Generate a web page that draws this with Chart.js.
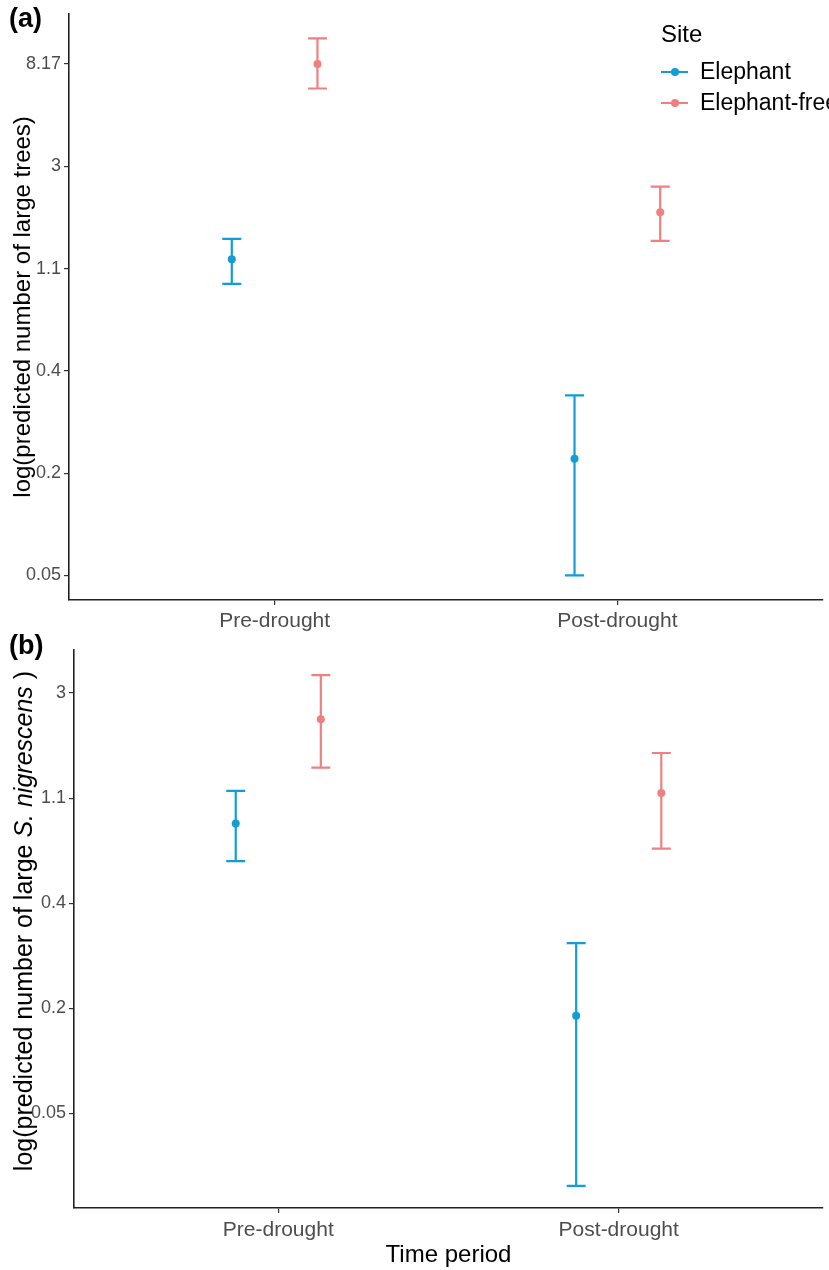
<!DOCTYPE html>
<html>
<head>
<meta charset="utf-8">
<script src="https://cdn.jsdelivr.net/npm/chart.js@4/dist/chart.umd.min.js"></script>
<style>
  body { margin: 0; background: #fff; font-family: "Liberation Sans", Arial, sans-serif; }
  #wrap { position: relative; width: 829px; height: 1270px; overflow: hidden; }
  canvas { position: absolute; left: 0; }
  .panel-tag { position: absolute; left: 9px; font-weight: bold; font-size: 27px; color: #000; }
  #legend { position: absolute; left: 661px; top: 20px; color: #000; white-space: nowrap; }
  #legend .ttl { font-size: 24px; margin-bottom: 8px; }
  #legend .item { display: flex; align-items: center; font-size: 23px; height: 31px; }
  #legend .key { position: relative; width: 27px; height: 2px; margin-right: 12px; }
  #legend .key span { position: absolute; left: 10px; top: -3px; width: 8px; height: 8px; border-radius: 50%; }
</style>
</head>
<body>
<div id="wrap">
  <canvas id="chartA" width="829" height="635" style="top:0"></canvas>
  <canvas id="chartB" width="829" height="635" style="top:635px"></canvas>
  <div class="panel-tag" style="top:3px">(a)</div>
  <div class="panel-tag" style="top:630px">(b)</div>
  <div id="legend"></div>
</div>
<script>
/* ---------- data (values are on the plotted log axis, 1 unit = 1 labelled tick) ---------- */
const periods = ["Pre-drought", "Post-drought"];
const sites = ["Elephant", "Elephant-free"];
const siteColors = ["#129DD6", "#F08080"];

// panel (a): large trees
const ticksA = ["0.05", "0.2", "0.4", "1.1", "3", "8.17"];
const treesElephant = [3.09, 1.14];
const treesElephantLo = [2.85, 0.0];
const treesElephantHi = [3.29, 1.76];
const treesFree = [5.0, 3.55];
const treesFreeLo = [4.76, 3.27];
const treesFreeHi = [5.25, 3.80];

// panel (b): large S. nigrescens
const ticksB = ["0.05", "0.2", "0.4", "1.1", "3"];
const snigElephant = [2.76, 0.93];
const snigElephantLo = [2.40, -0.69];
const snigElephantHi = [3.07, 1.62];
const snigFree = [3.75, 3.05];
const snigFreeLo = [3.29, 2.52];
const snigFreeHi = [4.17, 3.43];

const dodge = [-0.125, 0.125];
const FONT = "'Liberation Sans', Arial, sans-serif";

/* ---------- legend ---------- */
const legend = document.getElementById("legend");
legend.innerHTML = `<div class="ttl">Site</div>` + sites.map((s, i) =>
  `<div class="item"><div class="key" style="background:${siteColors[i]}"><span style="background:${siteColors[i]}"></span></div>${s}</div>`
).join("");

/* ---------- plugins ---------- */
// error bars, drawn through the chart's own scales
const errorBars = {
  id: "errorBars",
  beforeDatasetsDraw(chart) {
    const { ctx, scales: { x, y } } = chart;
    chart.data.datasets.forEach((ds) => {
      ds.data.forEach((p) => {
        const px = x.getPixelForValue(p.x);
        const top = y.getPixelForValue(p.hi);
        const bot = y.getPixelForValue(p.lo);
        ctx.save();
        ctx.strokeStyle = ds.backgroundColor;
        ctx.lineWidth = 2.2;
        ctx.beginPath();
        ctx.moveTo(px, top); ctx.lineTo(px, bot);
        ctx.moveTo(px - 9.5, top); ctx.lineTo(px + 9.5, top);
        ctx.moveTo(px - 9.5, bot); ctx.lineTo(px + 9.5, bot);
        ctx.stroke();
        ctx.restore();
      });
    });
  }
};

// rotated y title, allows italic pieces
const yTitle = {
  id: "yTitle",
  afterDraw(chart, args, opts) {
    const { ctx, chartArea } = chart;
    const parts = opts.parts || [];
    ctx.save();
    ctx.fillStyle = "#000";
    ctx.textBaseline = "middle";
    let total = 0;
    parts.forEach((p) => {
      ctx.font = `${p.italic ? "italic " : ""}${opts.size}px ${FONT}`;
      p.w = ctx.measureText(p.text).width;
      total += p.w;
    });
    ctx.translate(opts.x, (chartArea.top + chartArea.bottom) / 2 + (opts.shift || 0));
    ctx.rotate(-Math.PI / 2);
    let cx = -total / 2;
    parts.forEach((p) => {
      ctx.font = `${p.italic ? "italic " : ""}${opts.size}px ${FONT}`;
      ctx.fillText(p.text, cx, 0);
      cx += p.w;
    });
    ctx.restore();
  }
};

/* ---------- builder ---------- */
function buildPanel(canvasId, cfg) {
  const series = [
    { mid: cfg.e, lo: cfg.eLo, hi: cfg.eHi },
    { mid: cfg.f, lo: cfg.fLo, hi: cfg.fHi }
  ];
  const datasets = series.map((s, si) => ({
    label: sites[si],
    data: periods.map((_, i) => ({ x: i + 1 + dodge[si], y: s.mid[i], lo: s.lo[i], hi: s.hi[i] })),
    backgroundColor: siteColors[si],
    borderWidth: 0,
    pointRadius: 4
  }));

  return new Chart(document.getElementById(canvasId), {
    type: "scatter",
    data: { datasets },
    plugins: [errorBars, yTitle],
    options: {
      responsive: false,
      animation: false,
      devicePixelRatio: 1,
      layout: { padding: { top: cfg.padTop, right: 6, left: 0, bottom: 0 } },
      plugins: {
        legend: { display: false },
        tooltip: { enabled: false },
        yTitle: { parts: cfg.yParts, x: cfg.titleX, size: cfg.titleSize, shift: cfg.titleShift }
      },
      scales: {
        x: {
          type: "linear",
          min: 0.4, max: 2.6,
          afterBuildTicks: (s) => { s.ticks = periods.map((_, i) => ({ value: i + 1 })); },
          afterFit: (s) => { s.height = cfg.xHeight; },
          ticks: {
            callback: (v, i) => periods[i],
            color: "#4D4D4D",
            font: { family: FONT, size: 21 },
            padding: cfg.xPad,
            maxRotation: 0
          },
          grid: { drawOnChartArea: false, drawTicks: true, tickLength: 5, color: "#333", lineWidth: 1.2 },
          border: { display: true, color: "#222", width: 1.6 },
          title: cfg.xTitle ? { display: true, text: cfg.xTitle, color: "#000",
            font: { family: FONT, size: 24 }, padding: { top: 0, bottom: 0 } } : { display: false }
        },
        y: {
          min: cfg.yMin, max: cfg.yMax,
          afterBuildTicks: (s) => { s.ticks = cfg.ticks.map((_, i) => ({ value: i })); },
          afterFit: (s) => { s.width = cfg.yWidth; },
          ticks: {
            callback: (v, i) => cfg.ticks[i],
            color: "#4D4D4D",
            font: { family: FONT, size: 18 },
            padding: 3
          },
          grid: { drawOnChartArea: false, drawTicks: true, tickLength: 5, color: "#333", lineWidth: 1.2 },
          border: { display: true, color: "#222", width: 1.6 }
        }
      }
    }
  });
}

buildPanel("chartA", {
  e: treesElephant, eLo: treesElephantLo, eHi: treesElephantHi,
  f: treesFree, fLo: treesFreeLo, fHi: treesFreeHi,
  ticks: ticksA, yMin: -0.24, yMax: 5.49,
  padTop: 12, yWidth: 69, xHeight: 35, xPad: 4, titleX: 23, titleSize: 24, titleShift: 0,
  yParts: [{ text: "log(predicted number of large trees)" }]
});

buildPanel("chartB", {
  e: snigElephant, eLo: snigElephantLo, eHi: snigElephantHi,
  f: snigFree, fLo: snigFreeLo, fHi: snigFreeHi,
  ticks: ticksB, yMin: -0.90, yMax: 4.41,
  padTop: 15, yWidth: 74, xHeight: 62, xPad: 5, titleX: 25, titleSize: 25, titleShift: -8,
  xTitle: "Time period",
  yParts: [{ text: "log(predicted number of large " }, { text: "S. nigrescens", italic: true }, { text: " )" }]
});
</script>
</body>
</html>
